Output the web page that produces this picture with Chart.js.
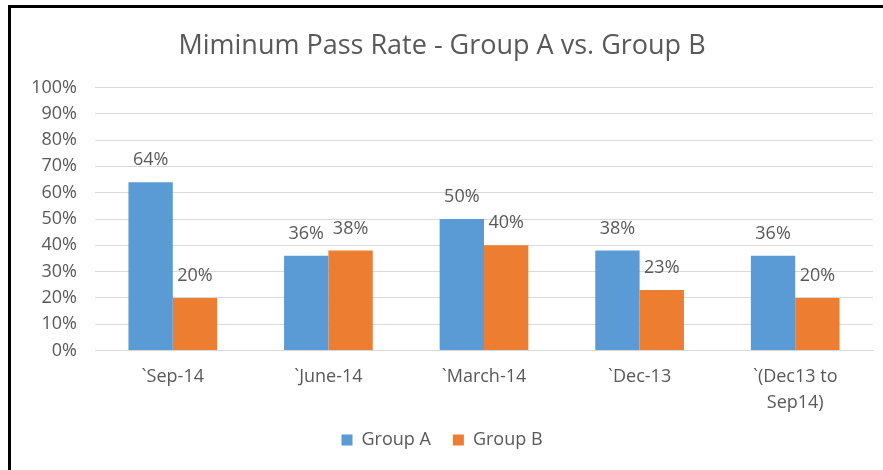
<!DOCTYPE html>
<html>
<head>
<meta charset="utf-8">
<script src="https://cdn.jsdelivr.net/npm/chart.js@4"></script>
<style>
  body { margin: 0; background: #fff; }
  #frame {
    position: absolute; left: 8px; top: 5px;
    width: 875px; height: 465px;
    border-left: 3px solid #000; border-top: 3px solid #000;
    box-sizing: border-box;
  }
</style>
</head>
<body>
<div id="frame"><canvas id="canvas" width="872" height="462"></canvas></div>
<script>
  // chart data
  const periods = ['`Sep-14', '`June-14', '`March-14', '`Dec-13', ['`(Dec13 to', 'Sep14)']];
  const groupA = [64, 36, 50, 38, 36];
  const groupB = [20, 38, 40, 23, 20];
  const yTicks = [0, 10, 20, 30, 40, 50, 60, 70, 80, 90, 100];

  const textColor = '#595959';
  const fontFamily = '"Open Sans", "Noto Sans", sans-serif';

  // value labels above each bar
  const barLabels = {
    id: 'barLabels',
    afterDatasetsDraw(chart) {
      const ctx = chart.ctx;
      ctx.save();
      ctx.font = '18px ' + fontFamily;
      ctx.fillStyle = textColor;
      ctx.textAlign = 'center';
      ctx.textBaseline = 'middle';
      chart.data.datasets.forEach((ds, i) => {
        chart.getDatasetMeta(i).data.forEach((bar, j) => {
          ctx.fillText(ds.data[j] + '%', bar.x, bar.y - 22);
        });
      });
      ctx.restore();
    }
  };

  const ctx = document.getElementById('canvas').getContext('2d');

  const myChart = new Chart(ctx, {
    type: 'bar',
    data: {
      labels: periods,
      datasets: [{
        label: 'Group A',
        data: groupA,
        backgroundColor: '#5B9BD5',
        categoryPercentage: 0.57,
        barPercentage: 1
      },
      {
        label: 'Group B',
        data: groupB,
        backgroundColor: '#ED7D31',
        categoryPercentage: 0.57,
        barPercentage: 1
      }]
    },
    options: {
      responsive: false,
      animation: false,
      layout: { padding: { left: 0, right: 10, top: 0, bottom: 11 } },
      plugins: {
        title: {
          display: true,
          text: 'Miminum Pass Rate - Group A vs. Group B',
          color: textColor,
          font: { family: fontFamily, size: 27, weight: 'normal' },
          padding: { top: 22, bottom: 25 }
        },
        legend: {
          position: 'bottom',
          labels: {
            color: textColor,
            font: { family: fontFamily, size: 18 },
            boxWidth: 11,
            boxHeight: 11,
            padding: 22
          }
        },
        tooltip: { enabled: false }
      },
      scales: {
        x: {
          afterFit(scale) {
            // tighter gap to the legend; let the wrapped label spill over
            scale.height = scale.height - 20;
            scale._computeLabelArea = () => null;
          },
          grid: { display: false, drawTicks: false },
          border: { color: '#d9d9d9', width: 1 },
          ticks: {
            color: textColor,
            font: { family: fontFamily, size: 18, lineHeight: 1.4 },
            padding: 14,
            maxRotation: 0
          }
        },
        y: {
          min: 0,
          max: 100,
          afterFit(scale) { scale.width = 84; },
          afterBuildTicks(scale) { scale.ticks = yTicks.map(v => ({ value: v })); },
          grid: { color: '#d9d9d9', drawTicks: false },
          border: { display: false },
          ticks: {
            color: textColor,
            font: { family: fontFamily, size: 18 },
            padding: 18,
            callback: v => v + '%'
          }
        }
      }
    },
    plugins: [barLabels]
  });
</script>
</body>
</html>
